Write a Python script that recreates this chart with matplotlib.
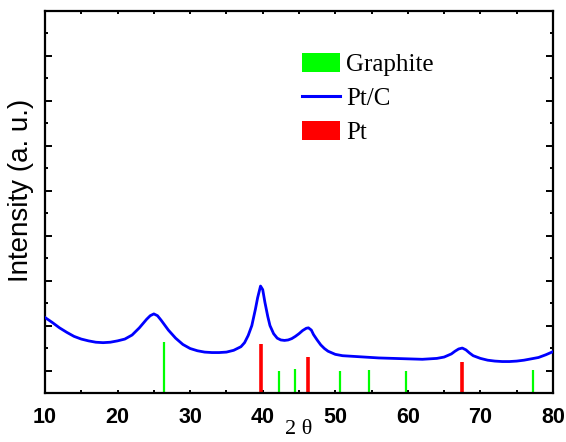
import numpy as np
import matplotlib
matplotlib.use('Agg')
import matplotlib.pyplot as plt
from matplotlib.patches import Patch
from matplotlib.lines import Line2D

# Pt/C XRD pattern (intensity in arbitrary units)
two_theta = [10, 11, 12, 13, 14, 15, 16, 17, 18, 19, 20, 21, 22, 23, 24, 24.5, 25, 25.5,
             26, 27, 28, 29, 30, 31, 32, 33, 34, 35, 36, 37, 37.5, 38, 38.5, 39, 39.3,
             39.7, 40, 40.3, 40.7, 41, 41.5, 42, 42.5, 43, 43.5, 44, 44.5, 45, 45.5, 46,
             46.3, 46.7, 47, 47.5, 48, 48.5, 49, 50, 51, 52, 53, 54, 55, 56, 58, 60, 62,
             64, 65, 66, 66.5, 67, 67.5, 68, 68.5, 69, 70, 71, 72, 73, 74, 75, 76, 77,
             78, 79, 80]
intensity = [1.68, 1.57, 1.45, 1.35, 1.26, 1.20, 1.16, 1.13, 1.12, 1.13, 1.16, 1.20, 1.29,
             1.45, 1.64, 1.72, 1.76, 1.72, 1.62, 1.40, 1.22, 1.08, 0.99, 0.94, 0.91, 0.90,
             0.90, 0.91, 0.95, 1.03, 1.12, 1.28, 1.50, 1.87, 2.12, 2.38, 2.30, 2.02, 1.70,
             1.50, 1.32, 1.22, 1.18, 1.17, 1.18, 1.21, 1.26, 1.32, 1.39, 1.44, 1.45, 1.40,
             1.30, 1.18, 1.07, 0.99, 0.93, 0.86, 0.83, 0.82, 0.81, 0.80, 0.79, 0.78, 0.77,
             0.76, 0.75, 0.77, 0.80, 0.87, 0.93, 0.98, 1.00, 0.96, 0.89, 0.83, 0.77, 0.73,
             0.71, 0.70, 0.70, 0.71, 0.73, 0.76, 0.79, 0.85, 0.92]

# reference sticks
graphite_pos = [26.4, 42.3, 44.5, 50.6, 54.6, 59.8, 77.3]
graphite_h = [1.14, 0.50, 0.53, 0.50, 0.51, 0.50, 0.52]
pt_pos = [39.8, 46.3, 67.4]
pt_h = [1.10, 0.81, 0.68]

fig = plt.figure(figsize=(5.66, 4.42), dpi=100)
ax = fig.add_axes([45/566, 49/442, 508/566, 382/442])

ax.vlines(graphite_pos, 0, graphite_h, color='#00ff00', lw=1.6, zorder=2)
ax.vlines(pt_pos, 0, pt_h, color='#ff0000', lw=2.6, zorder=2)
ax.plot(two_theta, intensity, color='#0000ff', lw=2.0, zorder=3)

ax.set_xlim(10, 80)
ax.set_ylim(0, 8.5)
ax.set_xticks(np.arange(10, 81, 10))
ax.set_xticks(np.arange(15, 80, 10), minor=True)
ax.set_yticks(np.arange(0.5, 8.6, 1))
ax.set_yticks(np.arange(0, 8.1, 1), minor=True)
ax.set_yticklabels([])
ax.tick_params(which='both', direction='in', top=True, right=True, width=1.4)
ax.tick_params(axis='y', which='major', length=5)
ax.tick_params(axis='y', which='minor', length=2.5)
ax.tick_params(axis='x', which='both', length=2.5)
ax.tick_params(axis='x', labelsize=15.5, pad=10)
for lab in ax.get_xticklabels():
    lab.set_fontweight('bold')
    lab.set_family('Liberation Sans')
for s in ax.spines.values():
    s.set_linewidth(1.6)

ax.set_xlabel('2 θ', family='Liberation Serif', fontsize=16, labelpad=-6)
ax.set_ylabel('Intensity (a. u.)', family='Liberation Sans', fontsize=20)
ax.yaxis.set_label_coords(-11/508, 0.53)

handles = [Patch(facecolor='#00ff00', edgecolor='none'),
           Line2D([0], [0], color='#0000ff', lw=2.2),
           Patch(facecolor='#ff0000', edgecolor='none')]
ax.legend(handles, ['Graphite', 'Pt/C', 'Pt'], loc='upper left',
          bbox_to_anchor=(302/566, 389/442), bbox_transform=fig.transFigure,
          frameon=False, borderpad=0, borderaxespad=0,
          prop={'family': 'Liberation Serif', 'size': 18},
          handlelength=1.5, handleheight=0.8, handletextpad=0.25, labelspacing=0.42)

fig.savefig('out.png', dpi=100)
